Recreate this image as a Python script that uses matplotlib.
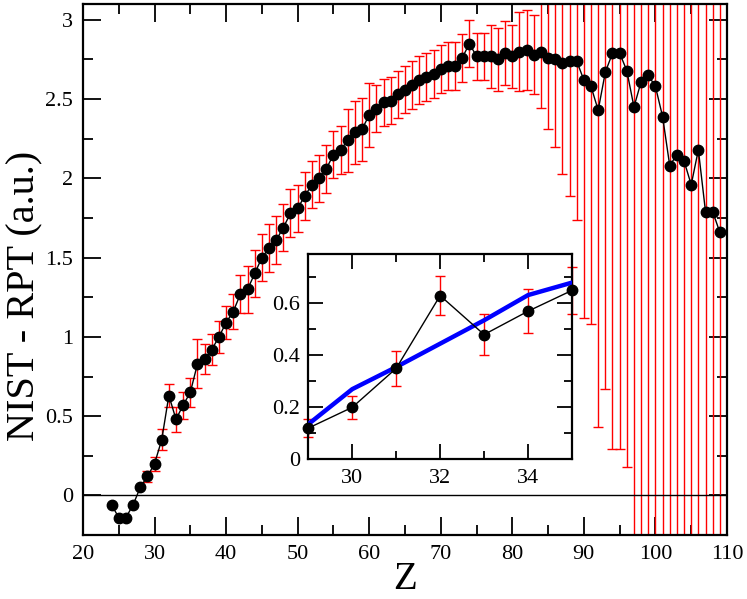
import numpy as np
import matplotlib
matplotlib.use("Agg")
import matplotlib.pyplot as plt
from matplotlib.ticker import MultipleLocator, FuncFormatter

plt.rcParams['font.family'] = ['Liberation Serif', 'DejaVu Serif']

# NIST - RPT difference vs atomic number Z
z = list(range(24, 110))
diff = [
    -0.06, -0.14, -0.14, -0.06, 0.05, 0.12, 0.20, 0.35, 0.63, 0.48,   # 24-33
    0.57, 0.65, 0.83, 0.86, 0.92, 1.00, 1.09, 1.16, 1.27, 1.30,      # 34-43
    1.40, 1.50, 1.56, 1.61, 1.69, 1.78, 1.81, 1.89, 1.96, 2.00,      # 44-53
    2.06, 2.15, 2.18, 2.24, 2.29, 2.31, 2.40, 2.44, 2.48, 2.49,      # 54-63
    2.53, 2.56, 2.59, 2.62, 2.64, 2.66, 2.69, 2.71, 2.71, 2.76,      # 64-73
    2.85, 2.77, 2.77, 2.77, 2.75, 2.79, 2.77, 2.80, 2.81, 2.78,      # 74-83
    2.80, 2.76, 2.75, 2.73, 2.74, 2.74, 2.62, 2.58, 2.43, 2.67,      # 84-93
    2.79, 2.79, 2.68, 2.45, 2.61, 2.65, 2.58, 2.39, 2.08, 2.15,      # 94-103
    2.11, 1.96, 2.18, 1.79, 1.79, 1.66,                              # 104-109
]
err = [
    0.0, 0.0, 0.0, 0.0, 0.0, 0.035, 0.045, 0.066, 0.075, 0.08,       # 24-33
    0.085, 0.09, 0.155, 0.093, 0.098, 0.10, 0.105, 0.11, 0.12, 0.15, # 34-43
    0.15, 0.15, 0.15, 0.15, 0.15, 0.15, 0.15, 0.15, 0.15, 0.15,      # 44-53
    0.15, 0.15, 0.15, 0.20, 0.20, 0.20, 0.20, 0.15, 0.15, 0.15,      # 54-63
    0.15, 0.15, 0.15, 0.15, 0.15, 0.15, 0.15, 0.15, 0.15, 0.15,      # 64-73
    0.15, 0.15, 0.15, 0.20, 0.20, 0.20, 0.20, 0.25, 0.25, 0.25,      # 74-83
    0.355, 0.45, 0.55, 0.70, 0.85, 1.0, 1.5, 1.5, 2.0, 2.0,          # 84-93
    2.5, 2.5, 2.5, 3.5, 3.5, 3.5, 3.5, 3.5, 3.5, 3.5,                # 94-103
    3.5, 3.5, 3.5, 3.5, 3.5, 3.5,                                    # 104-109
]

# inset: fit line (blue)
z_fit = [29, 30, 31, 32, 33, 34, 35]
fit = [0.135, 0.27, 0.355, 0.445, 0.535, 0.632, 0.68]

fig = plt.figure(figsize=(7.47, 5.99), dpi=100)
ax = fig.add_axes([0.1111, 0.1068, 0.8621, 0.8865])

ax.errorbar(z, diff, yerr=err, fmt='none', ecolor='red', elinewidth=1.0,
            capsize=3.8, capthick=1.0, zorder=2)
ax.axhline(0, color='black', lw=1.0, zorder=3)
ax.plot(z, diff, '-', color='black', lw=1.0, marker='o', markersize=7.5,
        markerfacecolor='black', markeredgecolor='black', zorder=4)

ax.set_xlim(20, 110)
ax.set_ylim(-0.25, 3.1)
ax.xaxis.set_major_locator(MultipleLocator(10))
ax.xaxis.set_minor_locator(MultipleLocator(5))
ax.yaxis.set_major_locator(MultipleLocator(0.5))
ax.yaxis.set_minor_locator(MultipleLocator(0.25))
fmt = FuncFormatter(lambda v, p: '%g' % round(v, 3))
ax.yaxis.set_major_formatter(fmt)
ax.tick_params(which='both', direction='in', top=True, right=True, width=1.3,
               labelsize=16)
ax.tick_params(which='major', length=13)
ax.tick_params(which='minor', length=7)
ax.tick_params(axis='x', pad=7)
ax.tick_params(axis='y', pad=7)
for s in ax.spines.values():
    s.set_linewidth(1.6)
ax.set_xlabel('Z', fontsize=28, labelpad=-2)
ax.set_ylabel('NIST - RPT (a.u.)', fontsize=29)
ax.yaxis.set_label_coords(-0.062, 0.45)

# inset (points 29..35 only, markers not clipped at the frame)
i0, i1 = z.index(29), z.index(35) + 1
ins = fig.add_axes([0.4127, 0.2332, 0.3530, 0.3427])
ins.plot(z_fit, fit, '-', color='blue', lw=3.2, zorder=3)
ins.errorbar(z[i0:i1], diff[i0:i1], yerr=err[i0:i1], fmt='none', ecolor='red',
             elinewidth=1.0, capsize=3.8, capthick=1.0, zorder=2, clip_on=False)
ins.plot(z[i0:i1], diff[i0:i1], '-', color='black', lw=1.0, marker='o',
         markersize=7.5, markerfacecolor='black', markeredgecolor='black',
         zorder=4, clip_on=False)
ins.set_xlim(29, 35)
ins.set_ylim(0, 0.79)
ins.xaxis.set_major_locator(MultipleLocator(2))
ins.xaxis.set_minor_locator(MultipleLocator(1))
ins.yaxis.set_major_locator(MultipleLocator(0.2))
ins.yaxis.set_minor_locator(MultipleLocator(0.1))
ins.yaxis.set_major_formatter(fmt)
ins.tick_params(which='both', direction='in', top=True, right=True, width=1.3,
                labelsize=16)
ins.tick_params(which='major', length=11)
ins.tick_params(which='minor', length=6)
ins.tick_params(axis='x', pad=7)
ins.tick_params(axis='y', pad=6)
for s in ins.spines.values():
    s.set_linewidth(1.6)

fig.savefig('out.png', dpi=100)
